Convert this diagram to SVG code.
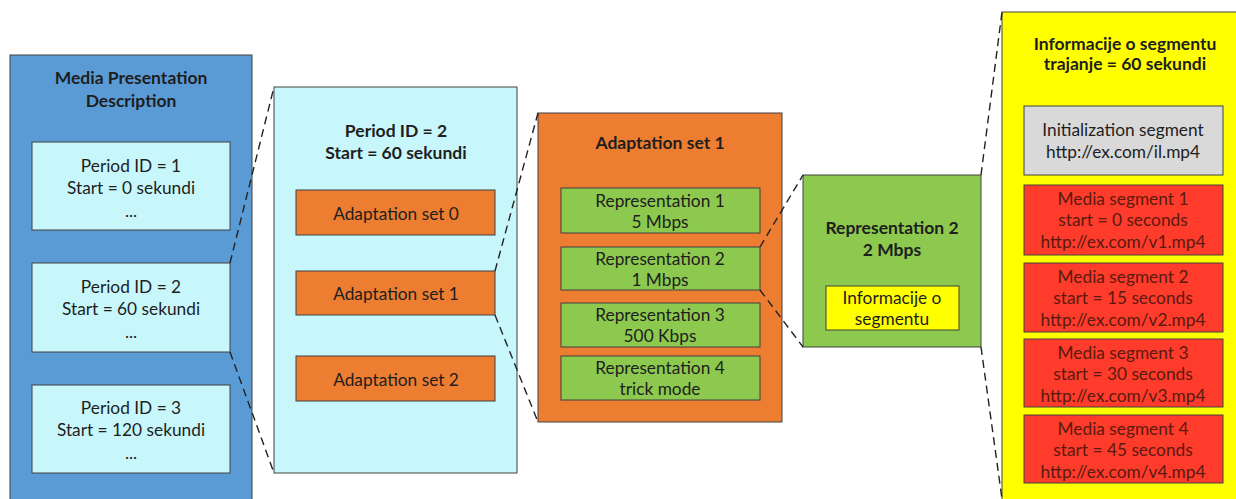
<svg xmlns="http://www.w3.org/2000/svg" width="1236" height="499" viewBox="0 0 1236 499">
<style>
text{font-family:Lato,"Open Sans","Liberation Sans",sans-serif;font-size:17.3px;fill:#1e1e1e;text-anchor:middle;dominant-baseline:central}
.b{font-weight:bold;font-size:17.5px}
.r{fill:#5a1a10}
.box{stroke:#404040;stroke-width:1}
.mpd{fill:#5B9BD5}
.cy{fill:#C8F7FB}
.or{fill:#ED7D31}
.gr{fill:#8DC94E}
.ye{fill:#FFFF00}
.gy{fill:#D9D9D9}
.rd{fill:#FF3B2B}
.dash{stroke:#222;stroke-width:1.4;stroke-dasharray:8 5;fill:none}
</style>
<rect width="1236" height="499" fill="#fff"/>
<g id="mpd">
<rect class="box mpd" x="10" y="55" width="242" height="460"/>
<text class="b" x="131" y="77">Media Presentation</text>
<text class="b" x="131" y="100">Description</text>
</g>
<g id="period1">
<rect class="box cy" x="32" y="142" width="198" height="88"/>
<text x="131" y="165">Period ID = 1</text>
<text x="131" y="187">Start = 0 sekundi</text>
<text x="131" y="210">...</text>
</g>
<g id="period2">
<rect class="box cy" x="32" y="263" width="198" height="89"/>
<text x="131" y="286">Period ID = 2</text>
<text x="131" y="308">Start = 60 sekundi</text>
<text x="131" y="331">...</text>
</g>
<g id="period3">
<rect class="box cy" x="32" y="385" width="198" height="88"/>
<text x="131" y="407">Period ID = 3</text>
<text x="131" y="429">Start = 120 sekundi</text>
<text x="131" y="452">...</text>
</g>
<g id="period-detail">
<rect class="box cy" x="274" y="87" width="243" height="386"/>
<text class="b" x="396" y="130">Period ID = 2</text>
<text class="b" x="396" y="152">Start = 60 sekundi</text>
</g>
<g id="as0">
<rect class="box or" x="296" y="190" width="199" height="45"/>
<text x="396" y="213">Adaptation set 0</text>
</g>
<g id="as1">
<rect class="box or" x="296" y="271" width="199" height="44"/>
<text x="396" y="293">Adaptation set 1</text>
</g>
<g id="as2">
<rect class="box or" x="296" y="356" width="199" height="45"/>
<text x="396" y="379">Adaptation set 2</text>
</g>
<g id="as1-detail">
<rect class="box or" x="538" y="113" width="244" height="309"/>
<text class="b" x="660" y="142">Adaptation set 1</text>
</g>
<g id="rep1">
<rect class="box gr" x="561" y="188" width="199" height="45"/>
<text x="660" y="200">Representation 1</text>
<text x="660" y="221">5 Mbps</text>
</g>
<g id="rep2">
<rect class="box gr" x="561" y="247" width="199" height="43"/>
<text x="660" y="258">Representation 2</text>
<text x="660" y="279">1 Mbps</text>
</g>
<g id="rep3">
<rect class="box gr" x="561" y="303" width="199" height="44"/>
<text x="660" y="314">Representation 3</text>
<text x="660" y="335">500 Kbps</text>
</g>
<g id="rep4">
<rect class="box gr" x="561" y="356" width="199" height="44"/>
<text x="660" y="367">Representation 4</text>
<text x="660" y="388">trick mode</text>
</g>
<g id="rep2-detail">
<rect class="box gr" x="803" y="175" width="178" height="172"/>
<text class="b" x="892" y="227">Representation 2</text>
<text class="b" x="892" y="249">2 Mbps</text>
</g>
<g id="seginfo">
<rect class="box ye" x="826" y="286" width="133" height="44"/>
<text x="892" y="297">Informacije o</text>
<text x="892" y="318">segmentu</text>
</g>
<g id="seginfo-detail">
<rect class="box ye" x="1002" y="12" width="250" height="500"/>
<text class="b" x="1125" y="43">Informacije o segmentu</text>
<text class="b" x="1125" y="63">trajanje = 60 sekundi</text>
</g>
<g id="init">
<rect class="box gy" x="1024" y="106" width="199" height="69"/>
<text x="1123" y="129">Initialization segment</text>
<text x="1123" y="151">http://ex.com/il.mp4</text>
</g>
<g id="ms1">
<rect class="box rd" x="1024" y="185" width="199" height="70"/>
<text class="r" x="1123" y="198">Media segment 1</text>
<text class="r" x="1123" y="219">start = 0 seconds</text>
<text class="r" x="1123" y="241">http://ex.com/v1.mp4</text>
</g>
<g id="ms2">
<rect class="box rd" x="1024" y="263" width="199" height="69"/>
<text class="r" x="1123" y="276">Media segment 2</text>
<text class="r" x="1123" y="297">start = 15 seconds</text>
<text class="r" x="1123" y="319">http://ex.com/v2.mp4</text>
</g>
<g id="ms3">
<rect class="box rd" x="1024" y="339" width="199" height="68"/>
<text class="r" x="1123" y="352">Media segment 3</text>
<text class="r" x="1123" y="373">start = 30 seconds</text>
<text class="r" x="1123" y="395">http://ex.com/v3.mp4</text>
</g>
<g id="ms4">
<rect class="box rd" x="1024" y="415" width="199" height="68"/>
<text class="r" x="1123" y="428">Media segment 4</text>
<text class="r" x="1123" y="449">start = 45 seconds</text>
<text class="r" x="1123" y="471">http://ex.com/v4.mp4</text>
</g>
<g id="connectors">
<line class="dash" x1="230" y1="263" x2="274" y2="87"/>
<line class="dash" x1="230" y1="352" x2="274" y2="473"/>
<line class="dash" x1="495" y1="271" x2="538" y2="113"/>
<line class="dash" x1="495" y1="315" x2="538" y2="422"/>
<line class="dash" x1="760" y1="247" x2="803" y2="175"/>
<line class="dash" x1="760" y1="290" x2="803" y2="347"/>
<line class="dash" x1="981" y1="175" x2="1002" y2="12"/>
<line class="dash" x1="981" y1="347" x2="1002" y2="499"/>
</g>
</svg>
